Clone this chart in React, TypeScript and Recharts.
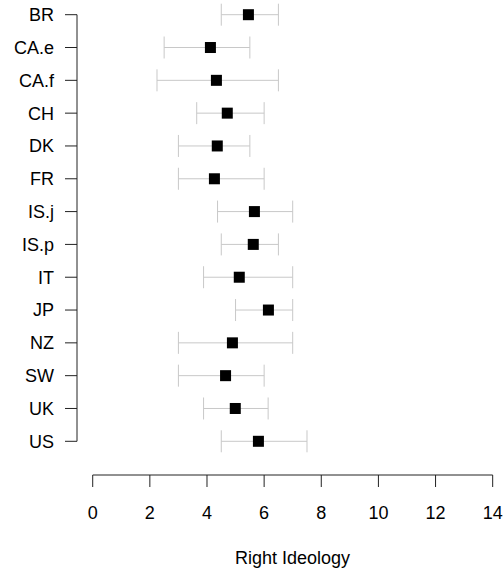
import {
  ScatterChart,
  Scatter,
  XAxis,
  YAxis,
  ErrorBar,
  ReferenceLine
} from 'recharts';

// countries, top to bottom
const categories = ['BR', 'CA.e', 'CA.f', 'CH', 'DK', 'FR', 'IS.j', 'IS.p', 'IT', 'JP', 'NZ', 'SW', 'UK', 'US'];
// point estimates
const estimates = [5.45, 4.12, 4.33, 4.71, 4.36, 4.26, 5.66, 5.62, 5.13, 6.15, 4.89, 4.65, 4.99, 5.8];
// interval ends
const lowerBounds = [4.5, 2.5, 2.25, 3.64, 3.0, 3.0, 4.37, 4.5, 3.88, 5.0, 3.0, 3.0, 3.88, 4.5];
const upperBounds = [6.5, 5.5, 6.5, 6.0, 5.5, 6.0, 7.0, 6.5, 7.0, 7.0, 7.0, 6.0, 6.14, 7.5];
const xTicks = [0, 2, 4, 6, 8, 10, 12, 14];

const X_MIN = -0.55;
const X_MAX = 14.396;
const Y_MIN = -0.387;
const Y_MAX = 14.027;

const font = { fontFamily: '"Liberation Sans", Arial, Helvetica, sans-serif', fontSize: 18, fill: '#000' };

// filled square marker, 11px
const SquareDot = (props: any) => {
  const { cx, cy } = props;
  if (cx == null || cy == null) return null;
  return <rect x={cx - 5.5} y={cy - 5.5} width={11} height={11} fill="#000" />;
};

export default function App() {
  const data = categories.map((name, i) => ({
    name,
    idx: i,
    value: estimates[i],
    err: [estimates[i] - lowerBounds[i], upperBounds[i] - estimates[i]]
  }));

  return (
    <div style={{ position: 'absolute', left: 0, top: 0, background: '#fff' }}>
      <ScatterChart width={504} height={569} margin={{ top: 2, right: 0, bottom: 0, left: 0 }}>
        <XAxis
          type="number"
          dataKey="value"
          domain={[X_MIN, X_MAX]}
          ticks={xTicks}
          allowDataOverflow
          axisLine={false}
          tickLine={{ stroke: '#222' }}
          tickSize={12}
          tickMargin={19}
          height={94}
          tick={font}
          label={({ viewBox }: any) => (
            <text
              x={viewBox.x + viewBox.width / 2 + 2}
              y={viewBox.y + 89}
              textAnchor="middle"
              style={font}
              fill="#000"
            >
              Right Ideology
            </text>
          )}
        />
        <YAxis
          type="number"
          dataKey="idx"
          domain={[Y_MIN, Y_MAX]}
          reversed
          ticks={categories.map((_, i) => i)}
          tickFormatter={(i: number) => categories[i]}
          allowDataOverflow
          interval={0}
          axisLine={false}
          tickLine={{ stroke: '#222' }}
          tickSize={12}
          tickMargin={11}
          width={77}
          tick={font}
        />
        <ReferenceLine
          segment={[{ x: X_MIN, y: 0 }, { x: X_MIN, y: categories.length - 1 }]}
          stroke="#222"
          ifOverflow="visible"
        />
        <ReferenceLine
          segment={[{ x: xTicks[0], y: Y_MAX }, { x: xTicks[xTicks.length - 1], y: Y_MAX }]}
          stroke="#222"
          ifOverflow="visible"
        />
        <Scatter data={data} fill="#000" shape={SquareDot} isAnimationActive={false}>
          <ErrorBar dataKey="err" direction="x" width={11} stroke="#c8c8c8" strokeWidth={1} />
        </Scatter>
      </ScatterChart>
    </div>
  );
}
